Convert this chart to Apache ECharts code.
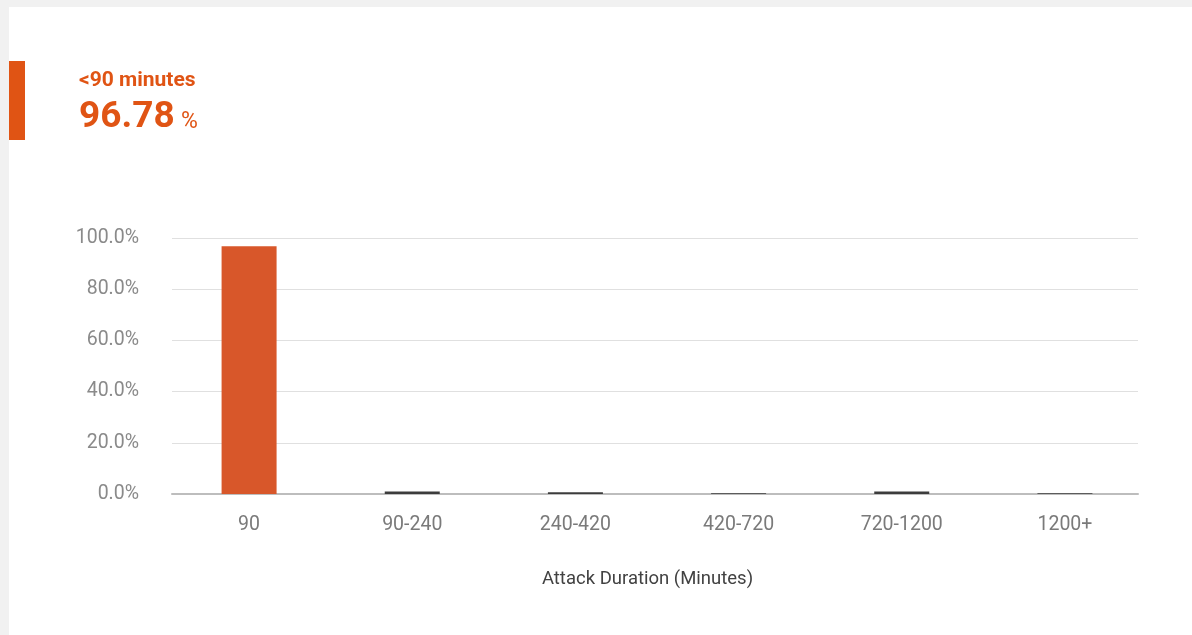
<!DOCTYPE html>
<html>
<head>
<meta charset="utf-8">
<script src="https://cdn.jsdelivr.net/npm/echarts@6/dist/echarts.min.js"></script>
<style>
  html, body { margin: 0; padding: 0; background: #f1f1f1; width: 1192px; height: 635px; overflow: hidden; }
  #card { position: absolute; left: 9px; top: 7px; width: 1183px; height: 628px; background: #ffffff; }
  #accent { position: absolute; left: 9px; top: 61px; width: 16px; height: 79px; background: #e05414; }
  #chart { position: absolute; left: 0; top: 0; width: 1192px; height: 635px; }
</style>
</head>
<body>
<div id="card"></div>
<div id="accent"></div>
<div id="chart"></div>
<script>
// Share of attacks by duration bucket (percent)
const categories = ['90', '90-240', '240-420', '420-720', '720-1200', '1200+'];
const shares = [96.78, 1.0, 0.7, 0.25, 1.0, 0.27];
const selectedIndex = 0;
const headline = '<90 minutes';
const headlineValue = '96.78';
const headlineUnit = '%';
const yTicks = { min: 0, max: 100, interval: 20 };
const axisName = 'Attack Duration (Minutes)';

const accent = '#e05414';
const chart = echarts.init(document.getElementById('chart'), null, { renderer: 'canvas' });

chart.setOption({
  backgroundColor: 'transparent',
  textStyle: { fontFamily: 'Roboto' },
  title: [
    {
      left: 79, top: 70, padding: 0, text: headline,
      textStyle: { color: accent, fontSize: 21, fontWeight: 'bold', fontFamily: 'Roboto' }
    },
    {
      left: 79, top: 99, padding: 0, text: headlineValue,
      textStyle: { color: accent, fontSize: 37, fontWeight: 'bold', fontFamily: 'Roboto' }
    },
    {
      left: 181, top: 111, padding: 0, text: headlineUnit,
      textStyle: { color: accent, fontSize: 23, fontWeight: 'normal', fontFamily: 'Roboto' }
    }
  ],
  grid: [
    // plot frame: gridlines and baseline
    { left: 172, right: 54, top: 238, bottom: 141 },
    // bar band layout
    { left: 167.5, right: 45.5, top: 238, bottom: 141 }
  ],
  xAxis: [
    {
      gridIndex: 0,
      type: 'category',
      data: categories,
      axisLine: { lineStyle: { color: '#bdbdbd', width: 2 } },
      axisTick: { show: false },
      axisLabel: { show: false }
    },
    {
      gridIndex: 1,
      type: 'category',
      data: categories,
      name: axisName,
      nameLocation: 'middle',
      nameGap: 76,
      nameTextStyle: { color: '#424242', fontSize: 18.5, fontFamily: 'Roboto', padding: [0, 19, 0, 0] },
      axisLine: { show: false },
      axisTick: { show: false },
      axisLabel: { color: '#7a7a7a', fontSize: 19.5, margin: 21, fontFamily: 'Roboto' }
    }
  ],
  yAxis: [
    {
      gridIndex: 0,
      type: 'value',
      min: yTicks.min,
      max: yTicks.max,
      interval: yTicks.interval,
      axisLine: { show: false },
      axisTick: { show: false },
      splitLine: { lineStyle: { color: '#e0e0e0', width: 1 } },
      axisLabel: {
        color: '#8a8a8a', fontSize: 19.5, margin: 33, fontFamily: 'Roboto',
        padding: [4, 0, 0, 0],
        formatter: v => v.toFixed(1) + '%'
      }
    },
    {
      gridIndex: 1,
      type: 'value',
      min: yTicks.min,
      max: yTicks.max,
      interval: yTicks.interval,
      show: false
    }
  ],
  series: [{
    type: 'bar',
    xAxisIndex: 1,
    yAxisIndex: 1,
    barWidth: 55,
    data: shares.map((v, i) => ({
      value: v,
      itemStyle: { color: i === selectedIndex ? '#d8572a' : '#3c3c3c' }
    })),
    animation: false
  }]
});
</script>
</body>
</html>
